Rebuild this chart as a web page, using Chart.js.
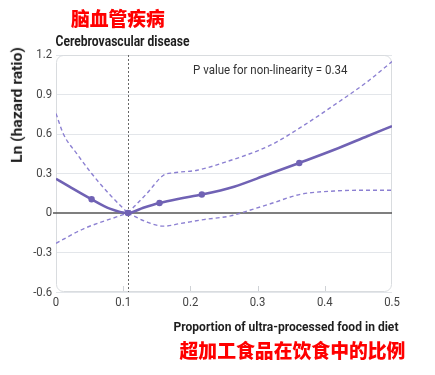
<!DOCTYPE html>
<html><head><meta charset="utf-8">
<script src="https://cdn.jsdelivr.net/npm/chart.js@4/dist/chart.umd.min.js"></script>
<style>
html,body{margin:0;padding:0;background:#fff;}
#wrap{position:relative;width:435px;height:375px;overflow:hidden;background:#fff;}
#c{position:absolute;left:0;top:0;}
.t{position:absolute;white-space:nowrap;line-height:1;}
.red{color:#ff0000;font-family:"Noto Sans CJK SC",sans-serif;font-weight:900;}
.lab{font-family:Roboto,sans-serif;font-weight:bold;color:#1e1e1e;font-size:14px;}
.pv{font-family:Roboto,sans-serif;color:#333;font-size:13px;}
</style></head><body>
<div id="wrap">
<canvas id="c" width="435" height="375"></canvas>
<div class="t red" data-cx="118" data-cy="18" data-w="94" data-fs="1">脑血管疾病</div>
<div class="t lab" data-lx="55" data-cy="41" data-w="134">Cerebrovascular disease</div>
<div class="t lab" data-cx="17" data-cy="105" data-w="116" data-rot="1">Ln (hazard ratio)</div>
<div class="t pv" data-lx="193" data-cy="69.5" data-w="154">P value for non-linearity = 0.34</div>
<div class="t lab" style="font-size:13.5px" data-cx="285.5" data-cy="326.5" data-w="225">Proportion of ultra-processed food in diet</div>
<div class="t red" data-cx="292.5" data-cy="350" data-w="226" data-fs="1">超加工食品在饮食中的比例</div>
</div>
<script>
// ---- data ----
const xTicks = [0, 0.1, 0.2, 0.3, 0.4, 0.5];
const yTicks = [-0.6, -0.3, 0, 0.3, 0.6, 0.9, 1.2];
const refX = 0.107;

const mainX = [0, 0.02, 0.053, 0.08, 0.107, 0.13, 0.154, 0.185, 0.217, 0.265, 0.314, 0.362, 0.414, 0.464, 0.5];
const mainY = [0.26, 0.2, 0.104, 0.033, 0, 0.04, 0.076, 0.11, 0.14, 0.2, 0.29, 0.38, 0.48, 0.585, 0.66];
const markerX = [0.053, 0.107, 0.154, 0.217, 0.362];

const upperX = [0, 0.011, 0.031, 0.053, 0.08, 0.107, 0.135, 0.16, 0.175, 0.21, 0.245, 0.319, 0.364, 0.414, 0.464, 0.5];
const upperY = [0.756, 0.6, 0.45, 0.3, 0.14, 0, 0.147, 0.287, 0.305, 0.325, 0.375, 0.515, 0.65, 0.82, 1.0, 1.15];

const lowerX = [0, 0.041, 0.09, 0.107, 0.135, 0.16, 0.185, 0.22, 0.26, 0.275, 0.319, 0.364, 0.414, 0.464, 0.5];
const lowerY = [-0.23, -0.12, -0.03, 0, -0.068, -0.1, -0.08, -0.05, -0.022, 0, 0.07, 0.142, 0.167, 0.173, 0.173];

// ---- build ----
const pts = (xs, ys) => xs.map((x, i) => ({x: x, y: ys[i]}));
const splitAt = (xs, ys) => {
  const k = xs.indexOf(refX);
  return [pts(xs.slice(0, k + 1), ys.slice(0, k + 1)), pts(xs.slice(k), ys.slice(k))];
};
const [upL, upR] = splitAt(upperX, upperY);
const [loL, loR] = splitAt(lowerX, lowerY);

const mainColor = '#7062b4';
const ciColor = '#8c80d2';
const ciDs = (data) => ({
  data: data, borderColor: ciColor, borderWidth: 1.4, borderDash: [4, 3],
  pointRadius: 0, cubicInterpolationMode: 'monotone', fill: false
});

const fmt = v => (Math.abs(v) < 1e-9 ? '0' : v.toFixed(1));
const TICK_FONT = '13.5px Roboto';
const TICK_SX = 0.84;

const decor = {
  id: 'decor',
  beforeDatasetsDraw(chart) {
    const {ctx, chartArea: a, scales} = chart;
    ctx.save();
    // inward x ticks
    ctx.strokeStyle = '#cfd2d6';
    ctx.lineWidth = 1;
    xTicks.forEach(v => {
      if (v === xTicks[0] || v === xTicks[xTicks.length - 1]) return;
      const px = Math.round(scales.x.getPixelForValue(v)) + 0.5;
      ctx.beginPath(); ctx.moveTo(px, a.bottom); ctx.lineTo(px, a.bottom - 6); ctx.stroke();
    });
    // rounded frame
    const r = 7, l = a.left + 0.5, t = a.top + 0.5, rr = a.right - 0.5, b = a.bottom - 0.5;
    ctx.strokeStyle = '#d9dcdf';
    ctx.beginPath();
    ctx.moveTo(l + r, t); ctx.lineTo(rr - r, t); ctx.arcTo(rr, t, rr, t + r, r);
    ctx.lineTo(rr, b - r); ctx.arcTo(rr, b, rr - r, b, r);
    ctx.lineTo(l + r, b); ctx.arcTo(l, b, l, b - r, r);
    ctx.lineTo(l, t + r); ctx.arcTo(l, t, l + r, t, r);
    ctx.stroke();
    // zero line slightly beyond left frame
    const y0 = scales.y.getPixelForValue(0);
    ctx.strokeStyle = '#555';
    ctx.lineWidth = 1.5;
    ctx.beginPath(); ctx.moveTo(a.left - 3, y0); ctx.lineTo(a.right, y0); ctx.stroke();
    // reference dotted line
    const rx = Math.round(scales.x.getPixelForValue(refX)) + 0.5;
    ctx.strokeStyle = '#666';
    ctx.lineWidth = 1;
    ctx.setLineDash([2, 2]);
    ctx.beginPath(); ctx.moveTo(rx, a.top); ctx.lineTo(rx, a.bottom); ctx.stroke();
    ctx.restore();
  },
  afterDraw(chart) {
    // condensed tick labels, positioned by the scales
    const {ctx, chartArea: a, scales} = chart;
    ctx.save();
    ctx.font = TICK_FONT;
    ctx.fillStyle = '#444';
    ctx.textBaseline = 'middle';
    scales.y.ticks.forEach(tk => {
      const py = scales.y.getPixelForValue(tk.value);
      ctx.save();
      ctx.translate(52, tk.value === yTicks[0] ? py + 0.5 : py);
      ctx.scale(TICK_SX, 1);
      ctx.textAlign = 'right';
      ctx.fillText(fmt(tk.value), 0, 0);
      ctx.restore();
    });
    scales.x.ticks.forEach(tk => {
      const px = scales.x.getPixelForValue(tk.value);
      ctx.save();
      ctx.translate(px, a.bottom + 11);
      ctx.scale(TICK_SX, 1);
      ctx.textAlign = 'center';
      ctx.fillText(fmt(tk.value), 0, 0);
      ctx.restore();
    });
    ctx.restore();
  }
};

new Chart(document.getElementById('c'), {
  type: 'line',
  data: {
    datasets: [
      {
        data: pts(mainX, mainY), borderColor: mainColor, backgroundColor: mainColor,
        borderWidth: 2.6, cubicInterpolationMode: 'monotone', fill: false,
        pointRadius: mainX.map(x => markerX.includes(x) ? 3.2 : 0),
        pointBorderWidth: 0, pointBackgroundColor: mainColor
      },
      ciDs(upL), ciDs(upR), ciDs(loL), ciDs(loR)
    ]
  },
  options: {
    responsive: false, animation: false,
    layout: {padding: {left: 0, right: 43, top: 55, bottom: 0}},
    plugins: {legend: {display: false}, tooltip: {enabled: false}},
    scales: {
      x: {
        type: 'linear', min: 0, max: 0.5,
        afterBuildTicks: s => { s.ticks = xTicks.map(v => ({value: v})); },
        afterFit: s => { s.height = 83; },
        grid: {display: false, drawTicks: false},
        border: {display: false},
        ticks: {display: false}
      },
      y: {
        type: 'linear', min: -0.6, max: 1.2,
        afterBuildTicks: s => { s.ticks = yTicks.map(v => ({value: v})); },
        afterFit: s => { s.width = 56; },
        grid: {
          drawTicks: false,
          color: c => (c.tick && Math.abs(c.tick.value) < 1e-9) ? 'rgba(0,0,0,0)' : '#e3e6ea',
          lineWidth: 1
        },
        border: {display: false},
        ticks: {display: false}
      }
    }
  },
  plugins: [decor]
});

// ---- position overlay text ----
document.querySelectorAll('.t').forEach(el => {
  const w = parseFloat(el.dataset.w);
  if (el.dataset.fs) {
    const fs = 18;
    el.style.fontSize = fs + 'px';
    el.style.fontSize = (fs * w / el.offsetWidth) + 'px';
  }
  const ow = el.offsetWidth, oh = el.offsetHeight;
  const sx = el.dataset.fs ? 1 : Math.min(1.15, w / ow);
  const cy = parseFloat(el.dataset.cy);
  let cx = el.dataset.cx !== undefined ? parseFloat(el.dataset.cx) : parseFloat(el.dataset.lx) + w / 2;
  el.style.left = (cx - ow / 2) + 'px';
  el.style.top = (cy - oh / 2) + 'px';
  el.style.transform = (el.dataset.rot ? 'rotate(-90deg) ' : '') + 'scaleX(' + sx + ')';
});
</script>
</body></html>
